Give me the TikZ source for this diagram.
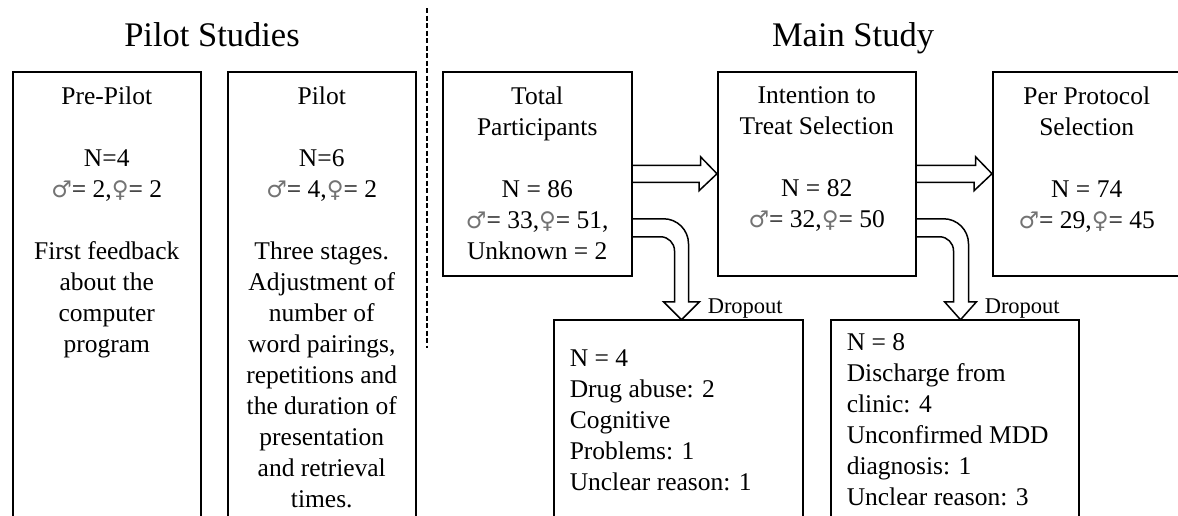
\documentclass[tikz,border=0pt]{standalone}
\usepackage{fontspec}
\setmainfont{Liberation Serif}
\newfontfamily\symfont{DejaVu Sans}
\usetikzlibrary{positioning}
\newcommand\malesym{{\symfont\fontsize{23}{31}\selectfont\color{black!55}♂}}
\newcommand\femsym{{\symfont\fontsize{23}{31}\selectfont\color{black!55}♀}}

\begin{document}
\begin{tikzpicture}[x=1pt,y=-1pt,line width=1.5pt,font=\fontsize{25.5}{31}\selectfont,
  box/.style={draw,inner sep=0,anchor=north west},
  txt/.style={inner sep=0,align=center},
  lefttxt/.style={inner sep=0,align=left},
  title/.style={inner sep=0,anchor=base,font=\fontsize{34.5}{40}\selectfont},
  droplbl/.style={inner sep=0,anchor=base west,font=\fontsize{22.5}{26}\selectfont},
  hollow/.style={draw,line width=1.5pt,line join=miter}]
\useasboundingbox (0,0) rectangle (1178,515);
\clip (0,0) rectangle (1178,515);
% headings and divider
\node[title] (pilothead) at (212,46.5) {Pilot Studies};
\node[title] (mainhead) at (853,46.5) {Main Study};
\coordinate (divtop) at (427,8);
\coordinate (divbot) at (427,348);
\draw[line width=2pt,dash pattern=on 5pt off 2.5pt] (divtop)--(divbot);
% boxes
\node[box,minimum width=188,minimum height=480] (prepilot) at (12,71) {};
\node[box,minimum width=188,minimum height=480] (pilot) at (227,71) {};
\node[box,minimum width=189,minimum height=204] (total) at (442,71) {};
\node[box,minimum width=198,minimum height=204] (itt) at (717,71) {};
\node[box,minimum width=188,minimum height=204] (pp) at (992,71) {};
\node[box,minimum width=249,minimum height=240] (dropa) at (553,319) {};
\node[box,minimum width=248,minimum height=240] (dropb) at (830,319) {};
% box texts
\node[txt,below=15pt of prepilot.north] (prepilottext) {Pre-Pilot\\[31pt]N=4\\\malesym= 2,\femsym= 2\\[31pt]First feedback\\about the\\computer\\program};
\node[txt,below=15pt of pilot.north] (pilottext) {Pilot\\[31pt]N=6\\\malesym= 4,\femsym= 2\\[31pt]Three stages.\\Adjustment of\\number of\\word pairings,\\repetitions and\\the duration of\\presentation\\and retrieval\\times.};
\node[txt,below=15pt of total.north] (totaltext) {Total\\Participants\\[31pt]N = 86\\\malesym= 33,\femsym= 51,\\Unknown = 2};
\node[txt,below=15pt of itt.north] (itttext) {Intention to\\Treat Selection\\[31pt]N = 82\\\malesym= 32,\femsym= 50};
\node[txt,below=15pt of pp.north] (pptext) {Per Protocol\\Selection\\[31pt]N = 74\\\malesym= 29,\femsym= 45};
\node[lefttxt,below right=30pt and 16pt of dropa.north west] (dropatext) {N = 4\\Drug abuse: 2\\Cognitive\\Problems: 1\\Unclear reason: 1};
\node[lefttxt,below right=14pt and 16pt of dropb.north west] (dropbtext) {N = 8\\Discharge from\\clinic: 4\\Unconfirmed MDD\\diagnosis: 1\\Unclear reason: 3};
% arrows
\draw[hollow] (total.east) ++(0,-8.5) -- ++(68,0) -- ++(0,-8.5) -- (itt.west) -- ++(-18,17) -- ++(0,-8.5) -- ++(-68,0);
\draw[hollow] (itt.east) ++(0,-8.5) -- ++(59,0) -- ++(0,-8.5) -- (pp.west) -- ++(-18,17) -- ++(0,-8.5) -- ++(-59,0);
\draw[hollow] (total.east) ++(0,45) -- ++(31,0) arc[start angle=-90,end angle=0,radius=25] -- ++(0,58) -- ++(11,0) -- ++(-18,18) -- ++(-18,-18) -- ++(11,0) -- ++(0,-51) arc[start angle=0,end angle=-90,radius=14] -- ++(-28,0);
\draw[hollow] (itt.east) ++(0,45) -- ++(27,0) arc[start angle=-90,end angle=0,radius=25] -- ++(0,58) -- ++(8,0) -- ++(-16,18) -- ++(-16,-18) -- ++(9,0) -- ++(0,-51) arc[start angle=0,end angle=-90,radius=14] -- ++(-23,0);
\node[droplbl] (dropalbl) at (707,313) {Dropout};
\node[droplbl] (dropblbl) at (984,313) {Dropout};
\end{tikzpicture}
\end{document}
